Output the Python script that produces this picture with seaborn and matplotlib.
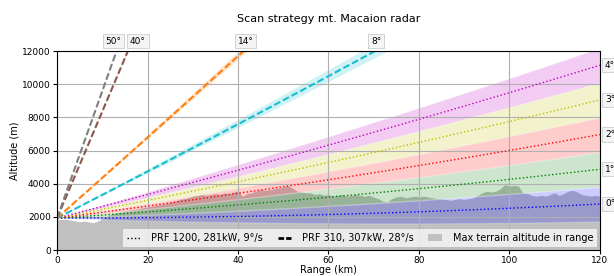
import numpy as np
import pandas as pd
import matplotlib
matplotlib.use("Agg")
import matplotlib.pyplot as plt
import seaborn as sns
from matplotlib.lines import Line2D
from matplotlib.patches import Patch

# ---------------- data ----------------
radar_alt_km = 1.93
elev_slow = [0, 1, 2, 3, 4]             # PRF 1200 dotted
colors_slow = ["b", "g", "r", "y", "m"]
elev_fast = [8, 14, 40, 50]             # PRF 310 dashed
colors_fast = ["tab:cyan", "tab:orange", "tab:brown", "tab:gray"]
halfbw_slow = 0.5
halfbw_fast = 0.35

terrain_km = list(range(0, 121))
terrain_m = [1850, 1850, 1850, 1800, 1750, 1700, 1750, 1700, 1650, 1750,
             1900, 2050, 2150, 2250, 2300, 2350, 2400, 2450, 2500, 2550,
             2600, 2650, 2700, 2750, 2800, 2900, 2950, 3050, 3100, 3150,
             3250, 3300, 3350, 3300, 3350, 3400, 3350, 3450, 3400, 3500,
             3550, 3250, 3400, 3450, 3550, 3650, 3600, 3650, 3700, 3750,
             3800, 3900, 3750, 3550, 3500, 3450, 3450, 3350, 3400, 3300,
             3350, 3250, 3300, 3350, 3250, 3300, 3350, 3300, 3250, 3300,
             3200, 3100, 2950, 2900, 3100, 3200, 3250, 3150, 3200, 3250,
             3200, 3250, 3200, 3150, 3100, 3100, 3050, 3000, 3050, 3100,
             3050, 3100, 3150, 3300, 3450, 3550, 3500, 3550, 3700, 3950,
             3850, 3900, 3850, 3450, 3400, 3300, 3250, 3300, 3250, 3350,
             3450, 3300, 3400, 3550, 3600, 3500, 3350, 3300, 3250, 3300,
             3250]

x_ticks = [0, 20, 40, 60, 80, 100, 120]
y_ticks = [0, 2000, 4000, 6000, 8000, 10000, 12000]
legend_labels = ["PRF 1200, 281kW, 9°/s", "PRF 310, 307kW, 28°/s",
                 "Max terrain altitude in range"]

# ---------------- beam model ----------------
kR = 4.0 / 3.0 * 6371.0
r = np.linspace(0, 120, 1201)


def beam_alt(el_deg):
    h = np.sqrt(r ** 2 + kR ** 2 + 2 * r * kR * np.sin(np.radians(el_deg))) - kR
    return (radar_alt_km + h) * 1000.0


df_slow = pd.concat([pd.DataFrame({"range": r, "alt": beam_alt(el), "elev": f"{el}°"})
                     for el in elev_slow])
df_fast = pd.concat([pd.DataFrame({"range": r, "alt": beam_alt(el), "elev": f"{el}°"})
                     for el in elev_fast])

# ---------------- figure ----------------
fig = plt.figure(figsize=(6.14, 2.76), dpi=100)
ax = fig.add_axes([0.093, 0.094, 0.884, 0.721])

ax.fill_between(terrain_km, 0, terrain_m, color="silver", lw=0, zorder=1)

for el, c in zip(elev_slow, colors_slow):
    ax.fill_between(r, beam_alt(el - halfbw_slow), beam_alt(el + halfbw_slow),
                    color=c, alpha=0.2, edgecolor="white", linewidth=1.0, zorder=1.1)
for el, c in zip(elev_fast, colors_fast):
    ax.fill_between(r, beam_alt(el - halfbw_fast), beam_alt(el + halfbw_fast),
                    color=c, alpha=0.2, lw=0, zorder=1.1)

sns.lineplot(data=df_slow, x="range", y="alt", hue="elev",
             palette=colors_slow, linestyle=":", linewidth=1.0,
             legend=False, ax=ax, sort=False, estimator=None)
sns.lineplot(data=df_fast, x="range", y="alt", hue="elev",
             palette=colors_fast, linewidth=1.5, dashes=False,
             legend=False, ax=ax, sort=False, estimator=None)
for line in ax.get_lines()[len(elev_slow):]:
    line.set_linestyle((0, (3.3, 1.4)))

ax.set_xlim(0, 120)
ax.set_ylim(0, 12000)
ax.set_xticks(x_ticks)
ax.set_yticks(y_ticks)
ax.grid(True, color="#b0b0b0", linewidth=0.8)
ax.tick_params(labelsize=6.5, length=3, pad=1.5)
ax.set_xlabel("Range (km)", fontsize=7, labelpad=0)
ax.set_ylabel("Altitude (m)", fontsize=7, labelpad=2)
ax.set_title("Scan strategy mt. Macaion radar", fontsize=8, pad=21)

box = dict(boxstyle="square,pad=0.3", facecolor="#f4f4f4", edgecolor="#cccccc", lw=0.6)

# right-side labels
for el in elev_slow:
    ax.annotate(f"{el}°", xy=(120, beam_alt(el)[-1]), xytext=(5, 0),
                textcoords="offset pixels", ha="left", va="center",
                fontsize=6.5, bbox=box, annotation_clip=False)

# top labels
top_offsets = {8: 1, 14: 2, 40: 10, 50: -3}
for el in elev_fast:
    a = beam_alt(el)
    xc = np.interp(12000, a, r)
    ax.annotate(f"{el}°", xy=(xc, 12000), xytext=(top_offsets[el], 10),
                textcoords="offset pixels", ha="center", va="center",
                fontsize=6.5, bbox=box, annotation_clip=False)

handles = [Line2D([], [], color="black", linestyle=":", lw=1.0),
           Line2D([], [], color="black", linestyle=(0, (2, 0.75)), lw=2.0),
           Patch(facecolor="silver", edgecolor="none")]
leg = ax.legend(handles, legend_labels, loc="lower right", ncol=3,
                fontsize=7, frameon=True, borderaxespad=0.3,
                columnspacing=1.5, handlelength=1.4, handletextpad=1.1,
                fancybox=False)
leg.get_frame().set_edgecolor("none")
leg.get_frame().set_facecolor("white")
leg.get_frame().set_alpha(0.7)

fig.savefig("out.png", dpi=100)
